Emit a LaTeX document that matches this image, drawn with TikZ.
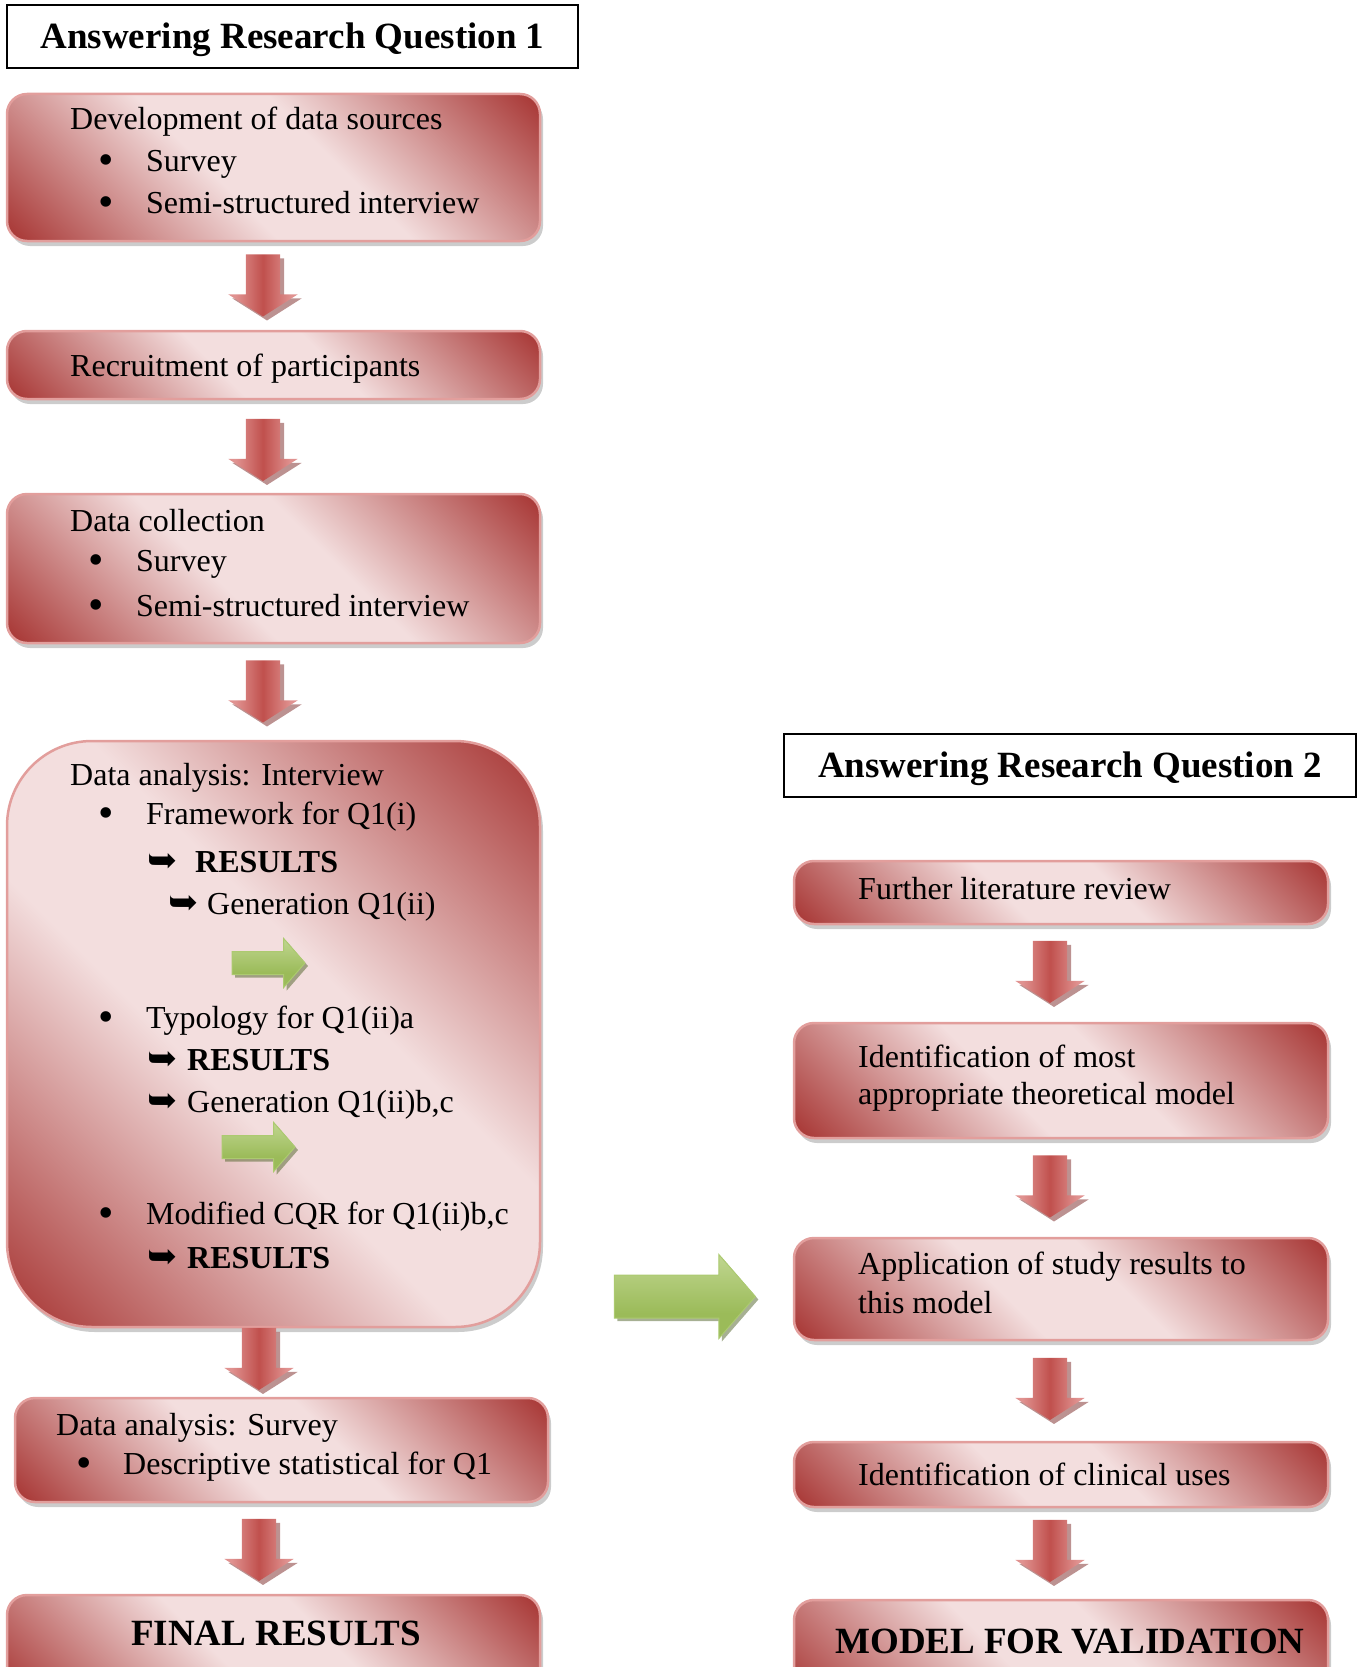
\documentclass[tikz,border=0pt]{standalone}
\usepackage{fontspec}
\setmainfont{Liberation Serif}
\newfontfamily\symfont{DejaVu Sans}
\usepackage{tikz}
\usetikzlibrary{shapes, arrows, shadows}
\usetikzlibrary{positioning, calc}

\definecolor{rdark}{RGB}{170,60,58}
\definecolor{rlight}{RGB}{243,222,222}
\definecolor{rline}{RGB}{226,158,156}
\definecolor{ared}{RGB}{192,80,77}
\definecolor{apink}{RGB}{224,146,144}
\definecolor{ashadow}{RGB}{122,38,36}
\definecolor{gfill}{RGB}{155,187,89}
\definecolor{glight}{RGB}{192,214,144}
\definecolor{gline}{RGB}{172,202,112}
\definecolor{gshadow}{RGB}{79,98,40}

\pgfdeclarehorizontalshading{redglow}{100bp}{color(0bp)=(rdark); color(16bp)=(rdark);
  color(43bp)=(rlight); color(57bp)=(rlight); color(84bp)=(rdark); color(100bp)=(rdark)}
\pgfdeclarehorizontalshading{redpipe}{100bp}{color(0bp)=(apink); color(30bp)=(apink);
  color(50bp)=(ared); color(70bp)=(apink); color(100bp)=(apink)}
\pgfdeclareverticalshading{greenpipe}{100bp}{color(0bp)=(gfill); color(40bp)=(gfill);
  color(75bp)=(glight); color(100bp)=(glight)}

\newcommand{\hookarr}{{\symfont\fontsize{36}{36}\selectfont ➥}}
\newcommand{\bul}{\raisebox{-3pt}{\fontsize{44}{44}\selectfont\textbullet}}

\tikzstyle{title} = [rectangle, draw = black, line width = 2pt, fill = white,
  inner sep = 0, text height = 24.4pt, text depth = 0pt,
  font = \fontsize{37}{44}\selectfont\bfseries]
\tikzstyle{stage} = [
  rectangle, rounded corners = 20pt,
  draw = rline, line width = 2.5pt,
  shade, shading = redglow, shading angle = 45,
  drop shadow = {shadow xshift = 3pt, shadow yshift = -5pt, fill = black!40},
  inner sep = 0
]
\tikzstyle{down} = [single arrow, shape border rotate = 270, inner xsep = 17pt,
  inner ysep = 0pt, minimum height = 62, single arrow head extend = 17.5pt,
  single arrow tip angle = 115, single arrow head indent = 0pt, shade, shading = redpipe,
  drop shadow = {shadow xshift = 4pt, shadow yshift = -4pt, fill = ashadow}]
\tikzstyle{go} = [single arrow, single arrow head indent = 0pt, inner xsep = 0pt,
  draw = gline, line width = 1pt, shade, shading = greenpipe,
  drop shadow = {shadow xshift = 3pt, shadow yshift = -3pt, fill = gshadow}]
\tikzstyle{txt} = [inner sep = 0, anchor = base west]
\tikzstyle{big} = [inner sep = 0, anchor = base, font = \fontsize{37}{44}\selectfont\bfseries]

\begin{document}
\begin{tikzpicture}[x = 1pt, y = -1pt, font = \fontsize{32}{38}\selectfont]
    \useasboundingbox (0, 0) rectangle (1360, 1667);

    \node [title, minimum width = 571, minimum height = 63] (rq-1) at (292.5, 36.5)
      {Answering Research Question 1};
    \node [title, minimum width = 572, minimum height = 63] (rq-2) at (1070, 765.5)
      {Answering Research Question 2};

    \node [stage, minimum width = 533, minimum height = 147] (dev-box) at (273.5, 167.5) {};
    \node [stage, minimum width = 533, minimum height = 68] (rec-box) at (273.5, 365) {};
    \node [stage, minimum width = 533, minimum height = 149] (col-box) at (273.5, 568.5) {};
    \node [stage, rounded corners = 85pt, minimum width = 533, minimum height = 586]
      (int-box) at (273.5, 1034) {};
    \node [stage, minimum width = 533, minimum height = 104] (sur-box) at (281.5, 1450) {};
    \node [stage, minimum width = 533, minimum height = 105] (fin-box) at (273.5, 1647.5) {};

    \node [stage, minimum width = 534, minimum height = 63] (lit-box) at (1061, 892.5) {};
    \node [stage, minimum width = 534, minimum height = 115] (mod-box) at (1061, 1080.5) {};
    \node [stage, minimum width = 534, minimum height = 102] (app-box) at (1061, 1289) {};
    \node [stage, minimum width = 534, minimum height = 65] (use-box) at (1061, 1474.5) {};
    \node [stage, minimum width = 534, minimum height = 105] (val-box) at (1061, 1652.5) {};

    \node [down] (a-1) at ($(dev-box.south)!0.5!(rec-box.north) + (-10.5, -6)$) {};
    \node [down] (a-2) at ($(rec-box.south)!0.5!(col-box.north) + (-10.5, -2)$) {};
    \node [down] (a-3) at ($(col-box.south)!0.5!(int-box.north) + (-10.5, -6)$) {};
    \node [down] (a-4) at ($(int-box.south)!0.5!(sur-box.north) + (-18.5, -9)$) {};
    \node [down] (a-5) at ($(sur-box.south)!0.5!(fin-box.north) + (-18.5, -4)$) {};
    \node [down] (b-1) at ($(lit-box.south)!0.5!(mod-box.north) + (-11, -7)$) {};
    \node [down] (b-2) at ($(mod-box.south)!0.5!(app-box.north) + (-11, -7)$) {};
    \node [down] (b-3) at ($(app-box.south)!0.5!(use-box.north) + (-11, -7.5)$) {};
    \node [down] (b-4) at ($(use-box.south)!0.5!(val-box.north) + (-11, -8)$) {};

    \node [go, inner ysep = 11pt, minimum height = 73, single arrow head extend = 13pt,
      single arrow tip angle = 98] (g-1) at (263.5, 963) {};
    \node [go, inner ysep = 11pt, minimum height = 73, single arrow head extend = 13pt,
      single arrow tip angle = 98] (g-2) at (253.5, 1147) {};
    \node [go, inner ysep = 21pt, minimum height = 141, single arrow head extend = 20.5pt,
      single arrow tip angle = 98] (g-3) at (675.5, 1296.5) {};

    \node [txt] (dev-t) at (70, 129) {Development of data sources};
    \node [txt] (dev-1) at (98, 171) {\makebox[48pt][l]{\bul}Survey};
    \node [txt] (dev-2) at (98, 213) {\makebox[48pt][l]{\bul}Semi-structured interview};
    \node [txt] (rec-t) at (70, 376) {Recruitment of participants};
    \node [txt] (col-t) at (70, 531) {Data collection};
    \node [txt] (col-1) at (88, 571) {\makebox[48pt][l]{\bul}Survey};
    \node [txt] (col-2) at (88, 616) {\makebox[48pt][l]{\bul}Semi-structured interview};

    \node [txt] (int-t) at (70, 785) {Data analysis: Interview};
    \node [txt] (int-1) at (98, 824) {\makebox[48pt][l]{\bul}Framework for Q1(i)};
    \node [txt] (int-1r) at (147, 872) {\makebox[48pt][l]{\hookarr}\textbf{RESULTS}};
    \node [txt] (int-1g) at (168, 914) {\makebox[39pt][l]{\hookarr}Generation Q1(ii)};
    \node [txt] (int-2) at (98, 1028) {\makebox[48pt][l]{\bul}Typology for Q1(ii)a};
    \node [txt] (int-2r) at (147, 1070) {\makebox[40pt][l]{\hookarr}\textbf{RESULTS}};
    \node [txt] (int-2g) at (147, 1112) {\makebox[40pt][l]{\hookarr}Generation Q1(ii)b,c};
    \node [txt] (int-3) at (98, 1224) {\makebox[48pt][l]{\bul}Modified CQR for Q1(ii)b,c};
    \node [txt] (int-3r) at (147, 1268) {\makebox[40pt][l]{\hookarr}\textbf{RESULTS}};

    \node [txt] (sur-t) at (56, 1435) {Data analysis: Survey};
    \node [txt] (sur-1) at (76, 1474) {\makebox[47pt][l]{\bul}Descriptive statistical for Q1};
    \node [big] (fin-t) at (276, 1645) {FINAL RESULTS};

    \node [txt] (lit-t) at (858, 899) {Further literature review};
    \node [txt] (mod-t1) at (858, 1067) {Identification of most};
    \node [txt] (mod-t2) at (858, 1104) {appropriate theoretical model};
    \node [txt] (app-t1) at (858, 1274) {Application of study results to};
    \node [txt] (app-t2) at (858, 1313) {this model};
    \node [txt] (use-t) at (858, 1485) {Identification of clinical uses};
    \node [big] (val-t) at (1070, 1653) {MODEL FOR VALIDATION};
  \end{tikzpicture}
\end{document}
